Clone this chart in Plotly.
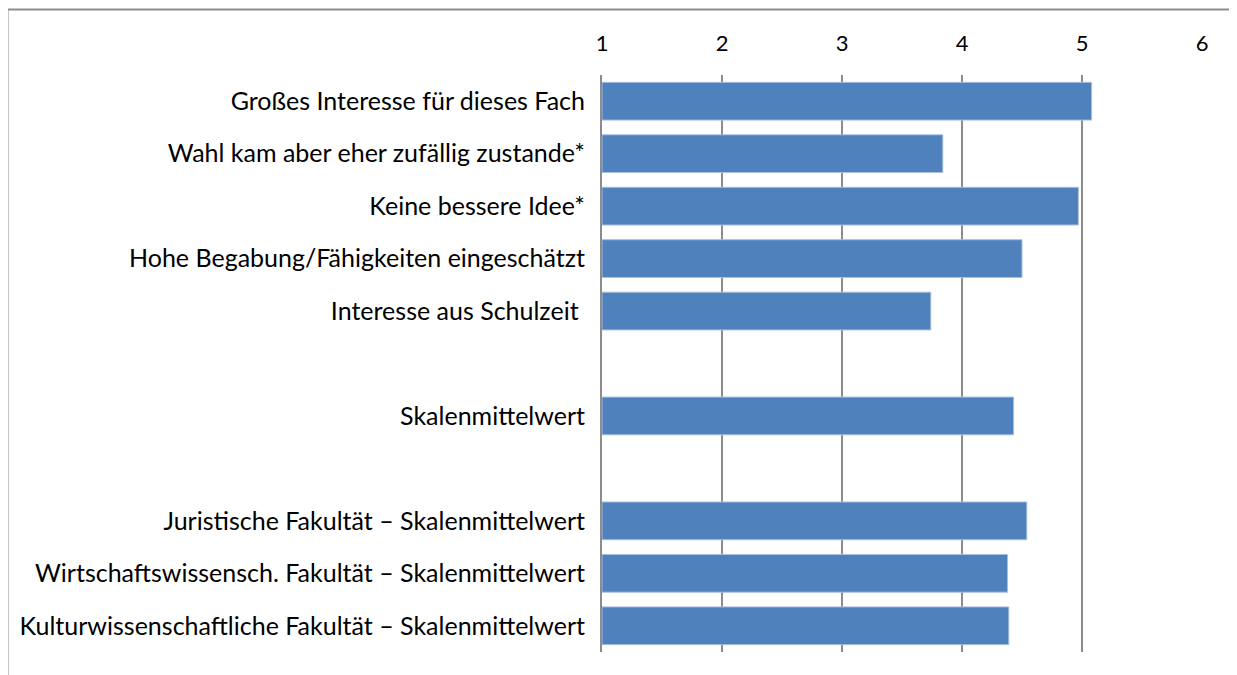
import plotly.graph_objects as go

categories = [
    "Großes Interesse für dieses Fach",
    "Wahl kam aber eher zufällig zustande*",
    "Keine bessere Idee*",
    "Hohe Begabung/Fähigkeiten eingeschätzt",
    "Interesse aus Schulzeit ",
    " ",
    "Skalenmittelwert",
    "  ",
    "Juristische Fakultät – Skalenmittelwert",
    "Wirtschaftswissensch. Fakultät – Skalenmittelwert",
    "Kulturwissenschaftliche Fakultät – Skalenmittelwert",
]
values = [5.08, 3.84, 4.97, 4.50, 3.74, None, 4.43, None, 4.54, 4.38, 4.39]
x_ticks = [1, 2, 3, 4, 5, 6]

# page body has an 8px margin, so the figure is a bit smaller and shifted
OFF = 8
W, H = 1237 - OFF, 675 - OFF
L, R, T, B = 602 - OFF, 35, 75 - OFF, 23

fig = go.Figure()
fig.add_trace(go.Bar(
    y=categories,
    x=[v - 1 if v is not None else None for v in values],
    base=1,
    orientation="h",
    marker=dict(color="#4F81BD", line=dict(color="#A9C1DF", width=1)),
    hoverinfo="skip",
))

# outer chart frame (top and left edges visible)
pw, ph = W - L - R, H - T - B
fx0 = (7 - OFF + 0.5 - L) / pw
fy1 = 1 + (T - (9 - OFF) - 0.5) / ph
frame = dict(color="#8C8C8C", width=2)
fig.add_shape(type="line", xref="paper", yref="paper",
              x0=fx0, x1=(W + 20 - L) / pw, y0=fy1, y1=fy1, line=frame, layer="below")
fig.add_shape(type="line", xref="paper", yref="paper",
              x0=fx0, x1=fx0, y0=fy1, y1=-(B + 20) / ph, line=frame, layer="below")

fig.update_layout(
    width=W,
    height=H,
    paper_bgcolor="white",
    plot_bgcolor="white",
    font=dict(family="Lato", size=25, color="black"),
    margin=dict(l=L, r=R, t=T, b=B, autoexpand=False),
    bargap=0.28,
    showlegend=False,
    xaxis=dict(
        side="top",
        range=[1, 6],
        tickvals=x_ticks,
        tickfont=dict(size=22),
        showgrid=True,
        gridcolor="#8C8C8C",
        gridwidth=2,
        zeroline=False,
        showline=False,
        ticks="",
        ticklabelstandoff=19,
        automargin=False,
    ),
    yaxis=dict(
        type="category",
        categoryorder="array",
        categoryarray=categories,
        autorange="reversed",
        showgrid=False,
        showline=True,
        linecolor="#8C8C8C",
        linewidth=2,
        ticks="",
        ticklabelstandoff=10,
        automargin=False,
    ),
)

fig.write_html("out.html")
